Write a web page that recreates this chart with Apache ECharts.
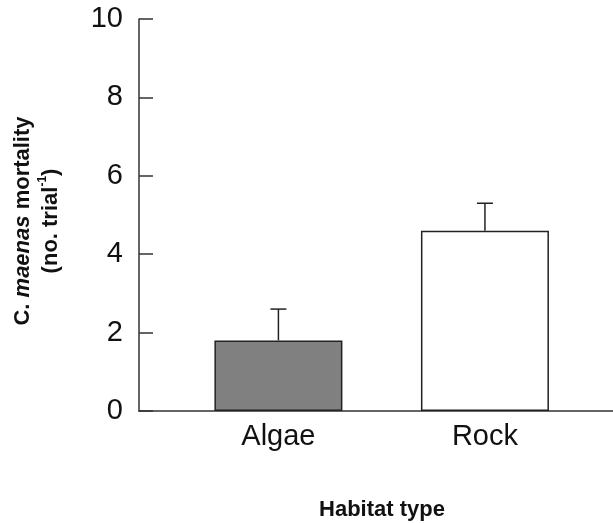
<!DOCTYPE html>
<html>
<head>
<meta charset="utf-8">
<script src="https://cdn.jsdelivr.net/npm/echarts@6/dist/echarts.min.js"></script>
<style>html,body{margin:0;padding:0;background:#fff}#c{width:613px;height:523px}</style>
</head>
<body>
<div id="c"></div>
<script>
const categories = ['Algae', 'Rock'];
const categoryPositions = [1, 2];
const means = [1.8, 4.6];
const upperErrors = [0.8, 0.7];
const yTicks = [0, 2, 4, 6, 8, 10];
const barColors = ['#808080', '#ffffff'];

const chart = echarts.init(document.getElementById('c'), null, {renderer: 'canvas'});
const font = '"Liberation Sans", Arial, sans-serif';

const barData = means.map((m, i) => ({
  value: [categoryPositions[i], m],
  itemStyle: {color: barColors[i]}
}));
const errData = means.map((m, i) => [categoryPositions[i], m, m + upperErrors[i]]);

chart.setOption({
  animation: false,
  backgroundColor: '#ffffff',
  grid: {left: 139, right: 0, top: 19, bottom: 112, containLabel: false, outerBoundsMode: 'none'},
  xAxis: {
    type: 'value',
    min: 0.325,
    max: 2.62,
    splitLine: {show: false},
    axisLine: {show: true, lineStyle: {color: '#333', width: 1.5}},
    axisTick: {show: false},
    axisLabel: {
      customValues: categoryPositions,
      formatter: v => categories[categoryPositions.indexOf(v)] || '',
      fontFamily: font, fontSize: 29, color: '#111', margin: 11
    },
    name: 'Habitat type',
    nameLocation: 'middle',
    nameGap: 88,
    nameTextStyle: {fontFamily: font, fontSize: 22, fontWeight: 'bold', color: '#111', padding: [0, 0, 0, 12]}
  },
  yAxis: {
    type: 'value',
    min: 0, max: 10, interval: 2,
    splitLine: {show: false},
    axisLine: {show: true, lineStyle: {color: '#333', width: 1.5}},
    axisTick: {show: true, inside: true, length: 14, lineStyle: {color: '#333', width: 1.5}, customValues: yTicks},
    axisLabel: {customValues: yTicks, fontFamily: font, fontSize: 29, color: '#111', margin: 16},
    name: '{b|C. }{i|maenas}{b| mortality}\n{b|(no. trial}{s|-1}{b|)}',
    nameLocation: 'middle',
    nameGap: 74,
    nameTextStyle: {
      fontFamily: font, fontSize: 22, fontWeight: 'bold', color: '#111',
      padding: [0, 12, 0, 0],
      rich: {
        b: {fontFamily: font, fontSize: 22, fontWeight: 'bold', color: '#111', lineHeight: 28},
        i: {fontFamily: font, fontSize: 22, fontWeight: 'bold', fontStyle: 'italic', color: '#111', lineHeight: 28},
        s: {fontFamily: font, fontSize: 12, fontWeight: 'bold', color: '#111', verticalAlign: 'top', lineHeight: 28, padding: [0, 0, 10, 0]}
      }
    }
  },
  series: [
    {
      type: 'bar',
      data: barData,
      barWidth: 128,
      itemStyle: {borderColor: '#222', borderWidth: 1.5},
      z: 2
    },
    {
      type: 'custom',
      data: errData,
      z: 3,
      renderItem: function (params, api) {
        const x = api.value(0);
        const base = api.coord([x, api.value(1)]);
        const top = api.coord([x, api.value(2)]);
        const half = 8;
        const style = {stroke: '#222', lineWidth: 1.5};
        return {
          type: 'group',
          children: [
            {type: 'line', shape: {x1: base[0], y1: base[1], x2: top[0], y2: top[1]}, style: style},
            {type: 'line', shape: {x1: top[0] - half, y1: top[1], x2: top[0] + half, y2: top[1]}, style: style}
          ]
        };
      }
    }
  ]
});
</script>
</body>
</html>
